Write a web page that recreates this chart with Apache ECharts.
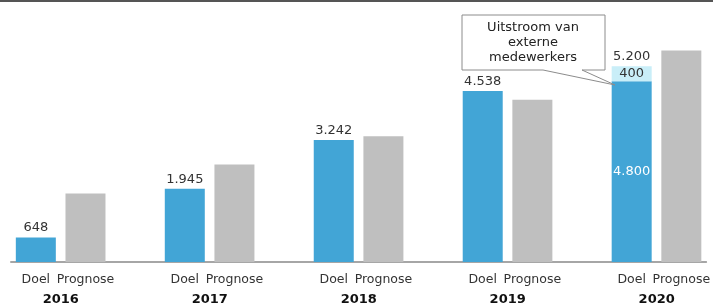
<!DOCTYPE html>
<html>
<head>
<meta charset="utf-8">
<script src="https://cdn.jsdelivr.net/npm/echarts@6/dist/echarts.min.js"></script>
<style>
  html, body { margin: 0; padding: 0; background: #fff; }
  #main { width: 713px; height: 306px; }
</style>
</head>
<body>
<div id="main"></div>
<script>
const years = ['2016', '2017', '2018', '2019', '2020']
const barNames = ['Doel', 'Prognose']
const doel = [648, 1945, 3242, 4538, 4800]
const uitstroom = [0, 0, 0, 0, 400]
const prognose = [1820, 2590, 3340, 4310, 5620]

const FONT = 'DejaVu Sans'
// dutch thousands separator
const fmt = n => String(n).replace(/\B(?=(\d{3})+(?!\d))/g, '.')

// every year gets 3 slots: Doel, Prognose, empty gap (last gap dropped)
const categories = []
years.forEach((y, i) => {
  categories.push(barNames[0], barNames[1])
  if (i < years.length - 1) categories.push('')
})
const empty = () => categories.map(() => '-')

const doelData = empty()
const extraData = empty()
const totalData = empty()
const progData = empty()
years.forEach((y, i) => {
  const k = i * 3
  doelData[k] = uitstroom[i] > 0
    ? { value: doel[i], label: { show: true, position: 'inside', color: '#fff' } }
    : doel[i]
  extraData[k] = uitstroom[i] > 0 ? uitstroom[i] : '-'
  totalData[k] = 0
  progData[k + 1] = prognose[i]
})

const option = {
  animation: false,
  backgroundColor: '#fff',
  textStyle: { fontFamily: FONT },
  grid: { left: 11, right: 4, top: 0, bottom: 43 },
  xAxis: [{
    type: 'category',
    data: categories,
    axisLine: { lineStyle: { color: '#a6a6a6', width: 2 } },
    axisTick: { show: false },
    axisLabel: { interval: 0, margin: 11, color: '#333', fontSize: 12.5, fontFamily: FONT }
  }, {
    // year row, shifted half a slot right so it sits under the pair
    type: 'category',
    data: categories,
    position: 'bottom',
    offset: 20,
    axisLine: { show: false },
    axisTick: { show: false },
    axisLabel: {
      interval: 0,
      margin: 11,
      formatter: (v, idx) => idx % 3 === 0 ? '{y|' + years[idx / 3] + '}' : '',
      rich: {
        y: { padding: [0, 0, 0, 50], fontWeight: 'bold', fontSize: 13, color: '#111', fontFamily: FONT }
      }
    }
  }],
  yAxis: { type: 'value', min: 0, max: 6958, show: false, splitLine: { show: false } },
  series: [{
    name: 'Doel',
    type: 'bar',
    stack: 'b',
    barWidth: 40,
    data: doelData,
    itemStyle: { color: '#42a5d6' },
    label: { show: false, fontSize: 13, fontFamily: FONT, formatter: p => fmt(p.value) }
  }, {
    name: 'Uitstroom',
    type: 'bar',
    stack: 'b',
    barWidth: 40,
    data: extraData,
    itemStyle: { color: '#c9eef8' },
    label: { show: true, position: 'inside', color: '#333', fontSize: 13, fontFamily: FONT, formatter: p => fmt(p.value) }
  }, {
    // zero height bar only carrying the total on top
    name: 'Totaal',
    type: 'bar',
    stack: 'b',
    barWidth: 40,
    data: totalData,
    itemStyle: { color: 'transparent' },
    label: {
      show: true,
      position: 'top',
      distance: 3,
      color: '#333',
      fontSize: 13,
      fontFamily: FONT,
      formatter: p => { const i = p.dataIndex / 3; return fmt(doel[i] + uitstroom[i]) }
    }
  }, {
    name: 'Prognose',
    type: 'bar',
    stack: 'b',
    barWidth: 40,
    data: progData,
    itemStyle: { color: '#bfbfbf' }
  }],
  graphic: [{
    type: 'rect',
    left: 0,
    top: 0,
    shape: { width: 713, height: 2 },
    style: { fill: '#555' }
  }, {
    type: 'polygon',
    z: 100,
    shape: { points: [[462, 15], [605, 15], [605, 70], [582, 70], [615, 85], [543, 70], [462, 70]] },
    style: { fill: '#fff', stroke: '#8c8c8c', lineWidth: 1 }
  }, {
    type: 'text',
    z: 101,
    x: 533,
    y: 20,
    style: {
      text: 'Uitstroom van\nexterne\nmedewerkers',
      fill: '#222',
      font: '13px "DejaVu Sans"',
      align: 'center',
      lineHeight: 15
    }
  }]
}

let myChart = echarts.init(document.getElementById('main'))
myChart.setOption(option)
</script>
</body>
</html>
